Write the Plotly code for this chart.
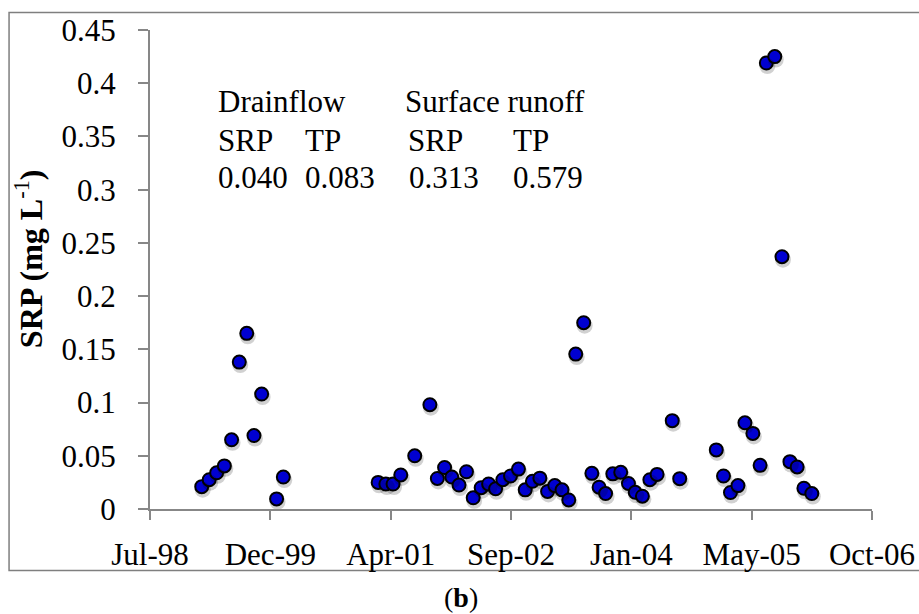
import plotly.graph_objects as go

# ---- data ----
dates = [
    "1999-02-24", "1999-03-27", "1999-04-27", "1999-05-29", "1999-06-28",
    "1999-07-30", "1999-08-30", "1999-09-29", "1999-10-31", "2000-01-01",
    "2000-01-29",
    "2001-02-26", "2001-03-30", "2001-04-29", "2001-05-31", "2001-07-28",
    "2001-09-29", "2001-10-30", "2001-11-29", "2001-12-29", "2002-01-28",
    "2002-02-28", "2002-03-28", "2002-04-30", "2002-05-31", "2002-06-29",
    "2002-07-29", "2002-08-30", "2002-10-02", "2002-10-30", "2002-11-29",
    "2002-12-30", "2003-01-31", "2003-03-02", "2003-04-01", "2003-04-29",
    "2003-05-28", "2003-06-30", "2003-08-03", "2003-09-02", "2003-09-29",
    "2003-10-29", "2003-12-01", "2004-01-02", "2004-01-30", "2004-02-29",
    "2004-03-31", "2004-04-30", "2004-07-02", "2004-08-02",
    "2005-01-01", "2005-01-31", "2005-03-01", "2005-04-01", "2005-04-30",
    "2005-06-02", "2005-07-02", "2005-07-28", "2005-09-01", "2005-10-01",
    "2005-11-03", "2005-12-03", "2005-12-31", "2006-02-02",
]
srp = [
    0.021, 0.0275, 0.034, 0.0405, 0.065,
    0.138, 0.165, 0.069, 0.108, 0.0095,
    0.030,
    0.025, 0.0235, 0.0235, 0.032, 0.050,
    0.098, 0.0287, 0.039, 0.030, 0.0225,
    0.035, 0.0105, 0.020, 0.0235, 0.019,
    0.0275, 0.031, 0.0375, 0.018, 0.026,
    0.029, 0.0165, 0.022, 0.018, 0.0085,
    0.1455, 0.175, 0.0335, 0.0205, 0.0145,
    0.033, 0.0345, 0.024, 0.0157, 0.012,
    0.0275, 0.0325, 0.083, 0.0285,
    0.0555, 0.031, 0.0155, 0.022, 0.081,
    0.071, 0.041, 0.419, 0.425, 0.237,
    0.0445, 0.0395, 0.0195, 0.0145,
]

x_range = ["1998-07-24", "2006-10-10"]
y_range = [0, 0.45]
y_ticks = [0, 0.05, 0.1, 0.15, 0.2, 0.25, 0.3, 0.35, 0.4, 0.45]
y_ticktext = ["0", "0.05", "0.1", "0.15", "0.2", "0.25", "0.3", "0.35", "0.4", "0.45"]

header1 = ["Drainflow", "Surface runoff"]
header2 = ["SRP", "TP", "SRP", "TP"]
means = ["0.040", "0.083", "0.313", "0.579"]

FONT = "Liberation Serif, Times New Roman, serif"
AXIS_GRAY = "#878787"
DAY_MS = 86400000

fig = go.Figure()

# soft drop shadow (same data, drawn on slightly shifted overlay axes)
fig.add_trace(go.Scatter(
    x=dates, y=srp, mode="markers", xaxis="x2", yaxis="y2",
    marker=dict(size=16, color="rgba(0,0,0,0.18)", line=dict(width=0)),
    hoverinfo="skip", showlegend=False, cliponaxis=False,
))
fig.add_trace(go.Scatter(
    x=dates, y=srp, mode="markers",
    marker=dict(size=13, color="#0000FF", line=dict(width=2, color="#000000")),
    showlegend=False, cliponaxis=False,
))

axis_font = dict(family=FONT, size=31, color="#000000")

fig.update_layout(
    width=919, height=614,
    margin=dict(l=150, r=46.7, t=29.5, b=104.7, autoexpand=False),
    paper_bgcolor="white", plot_bgcolor="white",
    xaxis=dict(
        type="date", range=x_range, automargin=False,
        tick0=x_range[0], dtick=500 * DAY_MS, tickformat="%b-%y",
        showgrid=False, zeroline=False,
        showline=True, linecolor=AXIS_GRAY, linewidth=2,
        ticks="outside", ticklen=9, tickwidth=2, tickcolor=AXIS_GRAY,
        tickfont=axis_font, ticklabelstandoff=8,
    ),
    yaxis=dict(
        range=y_range, tickvals=y_ticks, ticktext=y_ticktext, automargin=False,
        showgrid=False, zeroline=False,
        showline=True, linecolor=AXIS_GRAY, linewidth=2,
        ticks="outside", ticklen=10, tickwidth=2, tickcolor=AXIS_GRAY,
        tickfont=axis_font, ticklabelstandoff=16,
    ),
    xaxis2=dict(
        type="date", overlaying="x", visible=False, automargin=False,
        range=["1998-07-20", "2006-10-06"],
    ),
    yaxis2=dict(
        overlaying="y", visible=False, automargin=False, range=[0.0028, 0.4528],
    ),
)

def px_x(px):
    return (px - 150) / 722.3

def px_y(py):
    return (509.3 - py) / 479.8

txt_font = dict(family=FONT, size=31, color="#000000")
ann = []
# header lines
ann.append(dict(text=header1[0], x=px_x(216.7), y=px_y(101)))
ann.append(dict(text=header1[1], x=px_x(404.3), y=px_y(101)))
for txt, xp in zip(header2, [216.7, 304, 406.7, 511.7]):
    ann.append(dict(text=txt, x=px_x(xp), y=px_y(140)))
for txt, xp in zip(means, [216.7, 304, 408.3, 512.3]):
    ann.append(dict(text=txt, x=px_x(xp), y=px_y(177)))
for a in ann:
    a.update(xref="paper", yref="paper", xanchor="left", yanchor="middle",
             showarrow=False, font=txt_font, borderpad=0)

# y-axis title
ann.append(dict(
    text="<b>SRP (mg L</b><sup>-1</sup><b>)</b>", textangle=-90,
    x=px_x(29), y=px_y(259), xref="paper", yref="paper",
    xanchor="center", yanchor="middle", showarrow=False,
    font=dict(family=FONT, size=32, color="#000000"),
))
# panel label
ann.append(dict(
    text="(<b>b</b>)", x=px_x(461), y=px_y(598), xref="paper", yref="paper",
    xanchor="center", yanchor="middle", showarrow=False,
    font=dict(family=FONT, size=28, color="#000000"),
))
fig.update_layout(annotations=ann)

# outer frame
fig.add_shape(
    type="rect", xref="paper", yref="paper",
    x0=px_x(9), x1=px_x(930), y0=px_y(571), y1=px_y(12),
    line=dict(color="#7f7f7f", width=1.5), fillcolor="rgba(0,0,0,0)",
    layer="below",
)

fig.write_html(
    "out.html",
    config={"displayModeBar": False},
    post_script="document.body.style.margin='0';document.body.style.overflow='hidden';",
)
